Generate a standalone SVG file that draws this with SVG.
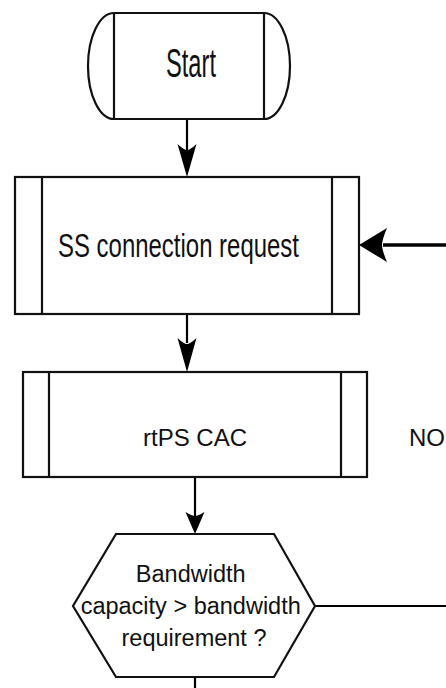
<svg xmlns="http://www.w3.org/2000/svg" width="446" height="688" viewBox="0 0 446 688">
<style>
.shape{fill:#fff;stroke:#111;stroke-width:2.2;stroke-linejoin:miter}
.inner{stroke:#111;stroke-width:2.2;fill:none}
.lbl{font-family:"Liberation Sans",Arial,sans-serif;fill:#111}
.conn{stroke:#000;stroke-width:2.2;fill:none}
.head{fill:#000;stroke:none}
</style>
<rect width="446" height="688" fill="#fff"/>
<g id="connectors">
  <line class="conn" x1="187" y1="120" x2="187" y2="150"/>
  <path class="head" d="M177.5,144 Q184,150 187,150 Q190,150 196.5,144 L187,177 Z"/>
  <line class="conn" x1="446" y1="245" x2="383" y2="245" style="stroke-width:3.5"/>
  <path class="head" d="M359,245 L387,228 Q382,240 382,245 Q382,250 387,262 Z"/>
  <line class="conn" x1="187" y1="314" x2="187" y2="343"/>
  <path class="head" d="M177.5,338 Q184,344 187,344 Q190,344 196.5,338 L187,372 Z"/>
  <line class="conn" x1="195" y1="477" x2="195" y2="516"/>
  <path class="head" d="M185.5,512 Q192,516 195,516 Q198,516 204.5,512 L195,534 Z"/>
  <line class="conn" x1="315" y1="606" x2="446" y2="606"/>
  <line class="conn" x1="195" y1="677" x2="195" y2="688"/>
</g>
<g id="start">
  <path class="shape" d="M114,13 L264,13 A26,53 0 0 1 264,119 L114,119 A26,53 0 0 1 114,13 Z"/>
  <line class="inner" x1="114" y1="13" x2="114" y2="119"/>
  <line class="inner" x1="264" y1="13" x2="264" y2="119"/>
  <text class="lbl" x="166" y="77" font-size="40" textLength="50" lengthAdjust="spacingAndGlyphs">Start</text>
</g>
<g id="ss-connection-request">
  <rect class="shape" x="15" y="177" width="344" height="137"/>
  <line class="inner" x1="42" y1="177" x2="42" y2="314"/>
  <line class="inner" x1="332" y1="177" x2="332" y2="314"/>
  <text class="lbl" x="58" y="257" font-size="34" textLength="241" lengthAdjust="spacingAndGlyphs">SS connection request</text>
</g>
<g id="rtps-cac">
  <rect class="shape" x="23" y="372" width="344" height="105"/>
  <line class="inner" x1="49" y1="372" x2="49" y2="477"/>
  <line class="inner" x1="341" y1="372" x2="341" y2="477"/>
  <text class="lbl" x="143" y="446" font-size="24">rtPS CAC</text>
</g>
<g id="no-label">
  <text class="lbl" x="409" y="446" font-size="24">NO</text>
</g>
<g id="bandwidth-check">
  <polygon class="shape" points="116,534 274,534 315,606 274,677 116,677 73,606"/>
  <text class="lbl" font-size="23.5" text-anchor="middle">
    <tspan x="194" y="582">Bandwidth</tspan>
    <tspan x="194" y="614">capacity &gt; bandwidth</tspan>
    <tspan x="194" y="646">requirement ?</tspan>
  </text>
</g>
</svg>
